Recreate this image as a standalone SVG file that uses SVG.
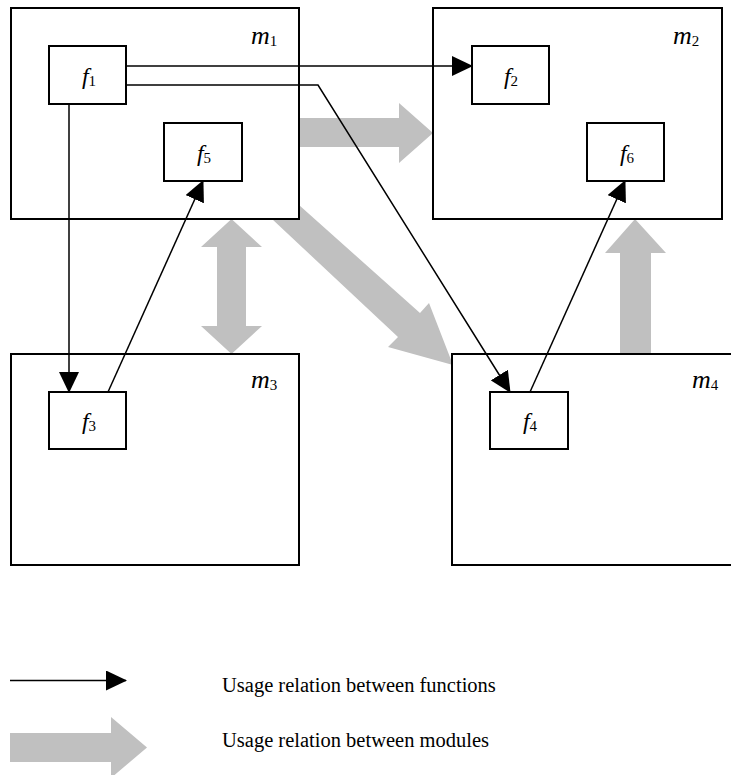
<svg xmlns="http://www.w3.org/2000/svg" width="731" height="775" viewBox="0 0 731 775">
  <style>
    .module { fill: #ffffff; stroke: #000000; stroke-width: 2; }
    .func { fill: #ffffff; stroke: #000000; stroke-width: 2; }
    .dep { fill: #c0c0c0; stroke: none; }
    .use { fill: none; stroke: #000000; stroke-width: 1.5; marker-end: url(#head); }
    .lbl { font-family: "Liberation Serif", "Times New Roman", serif; font-size: 24px; fill: #000000; }
    .mod { font-size: 26px; }
    .lbl .v { font-style: italic; }
    .lbl .s { font-size: 15px; }
    .legend { font-family: "Liberation Serif", "Times New Roman", serif; font-size: 20.5px; fill: #000000; }
  </style>
  <defs>
    <marker id="head" markerUnits="userSpaceOnUse" markerWidth="21" markerHeight="20" refX="20" refY="10" orient="auto">
      <path d="M0,0 L21,10 L0,20 Z" fill="#000000"/>
    </marker>
  </defs>
  <rect width="731" height="775" fill="#ffffff"/>

  <!-- module-level usage (wide grey arrows) -->
  <g id="module-deps">
    <polygon class="dep" points="299,118 399,118 399,103 433,133 399,163 399,147 299,147"/>
    <polygon class="dep" points="231.5,219 262,247 246,247 246,326 262,326 231.5,354 201,326 217,326 217,247 201,247"/>
    <polygon class="dep" points="635,219 666,253 651,253 651,354 620,354 620,253 605,253"/>
    <polygon class="dep" points="299,205 420,313 429,303 453,365 388,347 398,337 272,219"/>
  </g>

  <!-- modules -->
  <g id="m1">
    <rect class="module" x="11" y="8" width="288" height="211"/>
    <text class="lbl mod" x="251" y="44"><tspan class="v">m</tspan><tspan class="s" dy="2">1</tspan></text>
  </g>
  <g id="m2">
    <rect class="module" x="433" y="8" width="289" height="211"/>
    <text class="lbl mod" x="673" y="44"><tspan class="v">m</tspan><tspan class="s" dy="2">2</tspan></text>
  </g>
  <g id="m3">
    <rect class="module" x="11" y="354" width="288" height="211"/>
    <text class="lbl mod" x="251" y="388"><tspan class="v">m</tspan><tspan class="s" dy="2">3</tspan></text>
  </g>
  <g id="m4">
    <!-- runs off the right edge of the sheet -->
    <rect class="module" x="452" y="354" width="300" height="211"/>
    <text class="lbl mod" x="692" y="388"><tspan class="v">m</tspan><tspan class="s" dy="2">4</tspan></text>
  </g>

  <!-- functions -->
  <g id="f1">
    <rect class="func" x="49" y="46" width="77" height="58"/>
    <text class="lbl" x="89" y="84" text-anchor="middle"><tspan class="v">f</tspan><tspan class="s" dy="2">1</tspan></text>
  </g>
  <g id="f2">
    <rect class="func" x="472" y="46" width="77" height="58"/>
    <text class="lbl" x="511" y="84" text-anchor="middle"><tspan class="v">f</tspan><tspan class="s" dy="2">2</tspan></text>
  </g>
  <g id="f5">
    <rect class="func" x="164" y="123" width="78" height="58"/>
    <text class="lbl" x="204" y="161" text-anchor="middle"><tspan class="v">f</tspan><tspan class="s" dy="2">5</tspan></text>
  </g>
  <g id="f6">
    <rect class="func" x="587" y="123" width="77" height="58"/>
    <text class="lbl" x="627" y="161" text-anchor="middle"><tspan class="v">f</tspan><tspan class="s" dy="2">6</tspan></text>
  </g>
  <g id="f3">
    <rect class="func" x="49" y="392" width="77" height="57"/>
    <text class="lbl" x="89" y="429" text-anchor="middle"><tspan class="v">f</tspan><tspan class="s" dy="2">3</tspan></text>
  </g>
  <g id="f4">
    <rect class="func" x="490" y="392" width="78" height="57"/>
    <text class="lbl" x="530" y="429" text-anchor="middle"><tspan class="v">f</tspan><tspan class="s" dy="2">4</tspan></text>
  </g>

  <!-- function-level usage -->
  <g id="connectors">
    <polyline class="use" points="126,66 472,66"/>
    <polyline class="use" points="126,85 318,85 510,392"/>
    <polyline class="use" points="69,104 69,392"/>
    <polyline class="use" points="108,392 203,181"/>
    <polyline class="use" points="530,392 625,181"/>
  </g>

  <!-- legend -->
  <g id="legend">
    <polyline class="use" points="10,680.5 126,680.5"/>
    <polygon class="dep" points="10,733 111,733 111,717 147,747.5 111,778 111,762 10,762"/>
    <text class="legend" x="222" y="692">Usage relation between functions</text>
    <text class="legend" x="222" y="747">Usage relation between modules</text>
  </g>
</svg>
